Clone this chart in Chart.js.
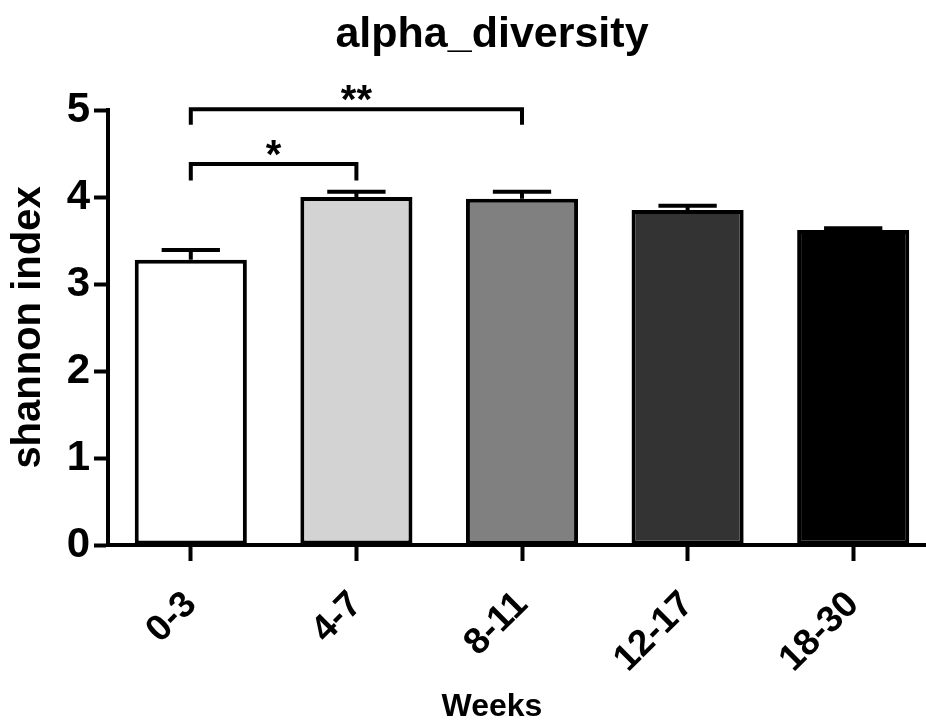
<!DOCTYPE html>
<html>
<head>
<meta charset="utf-8">
<script src="https://cdn.jsdelivr.net/npm/chart.js@4"></script>
<style>
  html, body { margin: 0; padding: 0; background: #fff; overflow: hidden; }
  #wrap { width: 940px; height: 722px; }
</style>
</head>
<body>
<div id="wrap"><canvas id="canvas" width="940" height="722"></canvas></div>
<script>
var weeks = ['0-3', '4-7', '8-11', '12-17', '18-30'];
var shannonMean = [3.28, 4.00, 3.98, 3.85, 3.62];
var shannonErrTop = [3.39, 4.06, 4.06, 3.90, 3.64]; // mean + SEM
var barColors = ['#ffffff', '#d3d3d3', '#808080', '#333333', '#000000'];

// significance brackets
var sigFrom = [0, 0];
var sigTo = [1, 2];
var sigLegY = [4.19, 4.83];
var sigTopY = [4.38, 5.01];
var sigText = ['*', '**'];

var FONT = "'Liberation Sans', Arial, sans-serif";
const ctx = document.getElementById('canvas');

// error bars, brackets and the titles
var extras = {
  id: 'extras',
  afterDatasetsDraw: function (chart) {
    var c = chart.ctx, xs = chart.scales.x, ys = chart.scales.y;
    var bars = chart.getDatasetMeta(0).data;
    c.save();
    c.strokeStyle = '#000';
    c.lineWidth = 4;
    bars.forEach(function (bar, i) {
      var top = ys.getPixelForValue(shannonErrTop[i]);
      var hw = bar.width * 0.26;
      c.beginPath();
      c.moveTo(bar.x, bar.y);
      c.lineTo(bar.x, top);
      c.moveTo(bar.x - hw, top);
      c.lineTo(bar.x + hw, top);
      c.stroke();
    });
    c.font = 'bold 40px ' + FONT;
    c.textAlign = 'center';
    c.textBaseline = 'alphabetic';
    c.fillStyle = '#000';
    for (var k = 0; k < sigText.length; k++) {
      var x1 = xs.getPixelForValue(sigFrom[k]), x2 = xs.getPixelForValue(sigTo[k]);
      var yl = ys.getPixelForValue(sigLegY[k]), yt = ys.getPixelForValue(sigTopY[k]);
      c.beginPath();
      c.moveTo(x1, yl);
      c.lineTo(x1, yt);
      c.lineTo(x2, yt);
      c.lineTo(x2, yl);
      c.stroke();
      c.fillText(sigText[k], (x1 + x2) / 2, yt + 4);
    }
    c.restore();
  },
  afterDraw: function (chart) {
    var c = chart.ctx;
    c.save();
    c.fillStyle = '#000';
    c.textAlign = 'center';
    c.textBaseline = 'alphabetic';
    c.font = 'bold 43px ' + FONT;
    c.fillText('alpha_diversity', 492, 47);
    c.font = 'bold 32px ' + FONT;
    c.fillText('Weeks', 492, 716);
    c.restore();
  }
};

new Chart(ctx, {
  type: 'bar',
  data: {
    labels: weeks,
    datasets: [
      {
        label: 'shannon index',
        data: shannonMean,
        backgroundColor: barColors,
        borderColor: '#000',
        borderWidth: 4,
        borderSkipped: false,
        barPercentage: 0.677,
        categoryPercentage: 1,
      },
    ],
  },
  options: {
    responsive: false,
    animation: false,
    devicePixelRatio: 1,
    layout: { padding: { top: 110, left: 0, right: 4, bottom: 0 } },
    plugins: {
      legend: { display: false },
      tooltip: { enabled: false },
      title: { display: false },
    },
    scales: {
      x: {
        afterFit: function (s) { s.height = 177; },
        border: { color: '#000', width: 4 },
        grid: { offset: false, drawOnChartArea: false, tickLength: 16, tickWidth: 4, tickColor: '#000' },
        ticks: {
          color: '#000',
          font: { family: FONT, size: 37, weight: 'bold' },
          minRotation: 45,
          maxRotation: 45,
          padding: 22,
        },
      },
      y: {
        min: 0,
        max: 5,
        afterFit: function (s) { s.width = 108; },
        border: { color: '#000', width: 4 },
        grid: { drawOnChartArea: false, tickLength: 14, tickWidth: 4, tickColor: '#000' },
        ticks: {
          stepSize: 1,
          color: '#000',
          font: { family: FONT, size: 42, weight: 'bold' },
          padding: 4,
        },
        title: {
          display: true,
          text: 'shannon index',
          color: '#000',
          font: { family: FONT, size: 40, weight: 'bold' },
          padding: { top: 5, bottom: 0 },
        },
      },
    },
  },
  plugins: [extras],
});
</script>
</body>
</html>
